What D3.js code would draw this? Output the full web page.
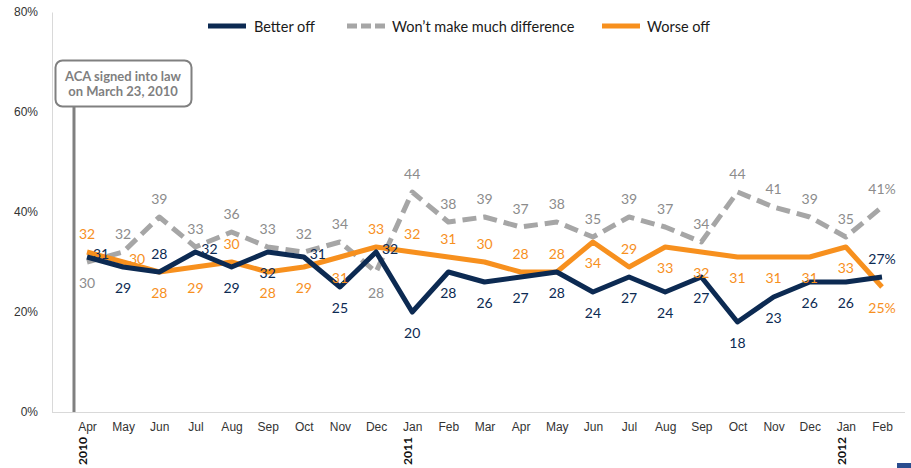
<!DOCTYPE html>
<html>
<head>
<meta charset="utf-8">
<script src="https://cdn.jsdelivr.net/npm/d3@7"></script>
<style>
  body { margin: 0; background: #fff; }
  svg { display: block; font-family: Lato, 'Noto Sans', sans-serif; }
  .axis text { font-size: 12px; fill: #333; }
  .lbl { font-size: 14px; }
</style>
</head>
<body>
<div id="chart"></div>
<script>
const months = ['Apr', 'May', 'Jun', 'Jul', 'Aug', 'Sep', 'Oct', 'Nov', 'Dec', 'Jan', 'Feb',
  'Mar', 'Apr', 'May', 'Jun', 'Jul', 'Aug', 'Sep', 'Oct', 'Nov', 'Dec', 'Jan', 'Feb'];
const years = [{ i: 0, label: '2010' }, { i: 9, label: '2011' }, { i: 21, label: '2012' }];

const betterOff = [31, 29, 28, 32, 29, 32, 31, 25, 32, 20, 28, 26, 27, 28, 24, 27, 24, 27, 18, 23, 26, 26, 27];
const noDifference = [30, 32, 39, 33, 36, 33, 32, 34, 28, 44, 38, 39, 37, 38, 35, 39, 37, 34, 44, 41, 39, 35, 41];
const worseOff = [32, 30, 28, 29, 30, 28, 29, 31, 33, 32, 31, 30, 28, 28, 34, 29, 33, 32, 31, 31, 31, 33, 25];

const yTicks = [0, 20, 40, 60, 80];

// where each data label sits: a = above, b = below, r = right
const betterPlace = 'rbarbbrbr' + 'bbbbbbbbbbbbb' + 'a';
const noDiffPlace = 'baaaaaaab' + 'aaaaaaaaaaaaaa';
const worsePlace = 'arbbabbb' + 'aaaaaa' + 'b' + 'a' + 'bbbbbbb';

const series = [
  { name: 'Better off', values: betterOff, place: betterPlace, color: '#0c2a52', text: '#0c2a52', dash: null },
  { name: 'Won\u2019t make much difference', values: noDifference, place: noDiffPlace, color: '#a6a6a6', text: '#8c8c8c', dash: '14,7' },
  { name: 'Worse off', values: worseOff, place: worsePlace, color: '#f7901e', text: '#f7901e', dash: null }
];

const width = 911, height = 468;
const svg = d3.select('#chart').append('svg').attr('width', width).attr('height', height);

const x = d3.scaleLinear().domain([0, months.length - 1]).range([87, 882]);
const y = d3.scaleLinear().domain([0, 80]).range([412, 12]);

// y axis
const yAxis = svg.append('g').attr('class', 'axis').attr('transform', 'translate(52,0)')
  .call(d3.axisLeft(y).tickValues(yTicks).tickFormat(d => d + '%').tickSize(0).tickPadding(14));
yAxis.select('.domain').attr('stroke', '#d9d9d9');

// x axis
const xAxis = svg.append('g').attr('class', 'axis').attr('transform', 'translate(0,412)')
  .call(d3.axisBottom(x).tickValues(d3.range(months.length)).tickFormat(i => months[i]).tickSize(0).tickPadding(10));
xAxis.select('.domain').attr('stroke', '#d9d9d9').attr('d', 'M52,0.5H905');

svg.selectAll('text.year').data(years).enter().append('text')
  .attr('class', 'year')
  .attr('transform', d => `translate(${x(d.i)},451) rotate(-90)`)
  .attr('text-anchor', 'middle')
  .style('font-size', '12px').style('font-weight', 'bold').style('fill', '#111')
  .text(d => d.label);

// ACA annotation (March 23, 2010 is ~0.36 of a month before Apr)
const ax = x(-0.36);
svg.append('line').attr('x1', ax).attr('x2', ax).attr('y1', 107).attr('y2', 412)
  .attr('stroke', '#808080').attr('stroke-width', 3);
svg.append('rect').attr('x', 55.5).attr('y', 60.5).attr('width', 136).attr('height', 46).attr('rx', 7)
  .attr('fill', '#fff').attr('stroke', '#808080').attr('stroke-width', 2);
svg.append('text').attr('x', 123).attr('y', 81).attr('text-anchor', 'middle')
  .style('font-size', '13px').style('font-weight', 'bold').style('fill', '#7f7f7f')
  .text('ACA signed into law');
svg.append('text').attr('x', 123).attr('y', 96).attr('text-anchor', 'middle')
  .style('font-size', '13px').style('font-weight', 'bold').style('fill', '#7f7f7f')
  .text('on March 23, 2010');

// lines
const line = d3.line().x((d, i) => x(i)).y(d => y(d));
const drawOrder = [1, 2, 0];
drawOrder.forEach(k => {
  const s = series[k];
  svg.append('path').datum(s.values)
    .attr('d', line)
    .attr('fill', 'none')
    .attr('stroke', s.color)
    .attr('stroke-width', 5)
    .attr('stroke-linejoin', 'round')
    .attr('stroke-dasharray', s.dash);
});

// data labels
series.forEach(s => {
  svg.append('g').selectAll('text').data(s.values).enter().append('text')
    .attr('class', 'lbl')
    .attr('x', (d, i) => x(i) + (s.place[i] === 'r' ? 14 : 0))
    .attr('y', (d, i) => y(d) + (s.place[i] === 'a' ? -19 : s.place[i] === 'b' ? 20 : -4))
    .attr('text-anchor', 'middle')
    .attr('dominant-baseline', 'central')
    .style('fill', s.text)
    .text((d, i) => d + (i === s.values.length - 1 ? '%' : ''));
});

// legend
const legendX = [208, 347, 602];
series.forEach((s, k) => {
  const g = svg.append('g').attr('transform', `translate(${legendX[k]},26)`);
  g.append('line').attr('x1', 0).attr('x2', 38).attr('y1', 0).attr('y2', 0)
    .attr('stroke', s.color).attr('stroke-width', 5)
    .attr('stroke-dasharray', s.dash ? '10,4' : null);
  g.append('text').attr('x', k === 0 ? 46 : 45).attr('y', 0).attr('dominant-baseline', 'central')
    .style('font-size', '14.5px').style('fill', '#1a1a1a')
    .text(s.name);
});

// small logo fragment in the corner
svg.append('rect').attr('x', 897).attr('y', 463).attr('width', 14).attr('height', 5).attr('fill', '#2a4d8f');
</script>
</body>
</html>
